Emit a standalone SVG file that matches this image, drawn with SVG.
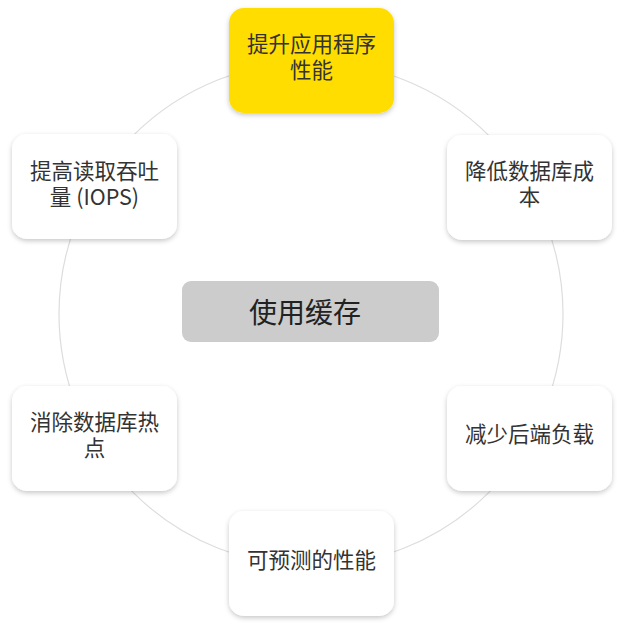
<svg xmlns="http://www.w3.org/2000/svg" width="620" height="628" viewBox="0 0 620 628">
<defs>
<filter id="sh" x="-20%" y="-20%" width="140%" height="150%">
<feDropShadow dx="0" dy="2" stdDeviation="2.5" flood-color="#000" flood-opacity="0.22"/>
</filter>
<style>
.box{fill:#ffffff;filter:url(#sh)}
.hl{fill:#ffdd00;filter:url(#sh)}
.ctr{fill:#cccccc}
.t{font-family:"Noto Sans CJK SC","Noto Sans",sans-serif;font-size:21.5px;fill:#333333;text-anchor:middle}
.tc{font-family:"Noto Sans CJK SC","Noto Sans",sans-serif;font-size:28px;fill:#222222;text-anchor:middle}
.ring{fill:none;stroke:#dddddd;stroke-width:1.2}
</style>
</defs>
<rect width="620" height="628" fill="#ffffff"/>
<g id="connectors">
<circle class="ring" cx="311" cy="314" r="252"/>
</g>
<g id="center">
<rect class="ctr" x="182" y="281" width="257" height="61" rx="9"/>
<text class="tc" x="305" y="323">使用缓存</text>
</g>
<g id="n-top">
<rect class="hl" x="229" y="8" width="165" height="105" rx="15"/>
<text class="t" x="311.5" y="52">提升应用程序</text>
<text class="t" x="311.5" y="78">性能</text>
</g>
<g id="n-ur">
<rect class="box" x="447" y="135" width="165" height="105" rx="15"/>
<text class="t" x="529.5" y="179">降低数据库成</text>
<text class="t" x="529.5" y="205">本</text>
</g>
<g id="n-lr">
<rect class="box" x="447" y="386" width="165" height="105" rx="15"/>
<text class="t" x="529.5" y="442">减少后端负载</text>
</g>
<g id="n-bottom">
<rect class="box" x="229" y="511" width="165" height="105" rx="15"/>
<text class="t" x="311.5" y="568">可预测的性能</text>
</g>
<g id="n-ll">
<rect class="box" x="12" y="386" width="165" height="105" rx="15"/>
<text class="t" x="94.5" y="430">消除数据库热</text>
<text class="t" x="94.5" y="456">点</text>
</g>
<g id="n-ul">
<rect class="box" x="12" y="134" width="165" height="105" rx="15"/>
<text class="t" x="94.5" y="179">提高读取吞吐</text>
<text class="t" x="94.5" y="205">量 (IOPS)</text>
</g>
</svg>
